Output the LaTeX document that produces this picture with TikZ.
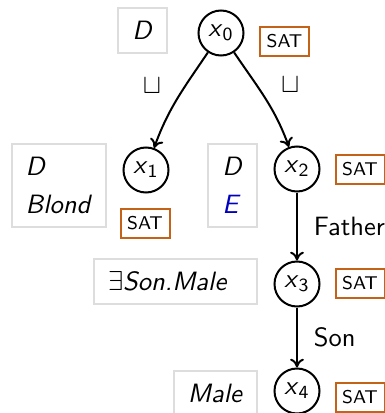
\documentclass[tikz,border=0pt]{standalone}
\usepackage{amsmath}
\usepackage{amssymb}
\usepackage{xcolor}
\usepackage{tikz}
\usetikzlibrary{arrows.meta}

\definecolor{satorange}{RGB}{196,98,24}
\definecolor{labelgray}{RGB}{221,221,221}
\definecolor{conceptblue}{RGB}{0,0,190}
\newcommand{\indv}[1]{\textit{x}\textsubscript{#1}}

\begin{document}
\begin{tikzpicture}[x=0.4pt, y=-0.4pt, font=\sffamily\fontsize{10.6}{12.7}\selectfont,
        indiv/.style={circle, draw, thick, minimum size=18pt, inner sep=0pt},
        labelbox/.style={draw=labelgray, thick, inner xsep=5.6pt, minimum height=18pt, align=left, anchor=north east},
        satbox/.style={draw=satorange, thick, font=\sffamily\fontsize{7.4}{9}\selectfont, minimum width=19.6pt, minimum height=11.6pt, inner sep=0pt},
        link/.style={-{To[length=3.5pt,width=5.5pt]}, thick}]
        \useasboundingbox (0,0) rectangle (385,413);

        % individuals of the tableau
        \node[indiv] (x0) at (221,33) {\indv{0}};
        \node[indiv] (x1) at (146,170) {\indv{1}};
        \node[indiv] (x2) at (297,169) {\indv{2}};
        \node[indiv] (x3) at (297,284) {\indv{3}};
        \node[indiv] (x4) at (297,391) {\indv{4}};

        % concept labels
        \node[labelbox] (L0) at (168,7) {\textit{D}};
        \node[labelbox, minimum height=33.2pt] (L1) at (107,143) {\textit{D}\\[2.5pt]\textit{Blond}};
        \node[labelbox, minimum height=33.2pt] (L2) at (258,143) {\textit{D}\\[2.5pt]\textcolor{conceptblue}{\textit{E}}};
        \node[labelbox, text width=54pt] (L3) at (258,258) {$\exists$\textit{Son.Male}};
        \node[labelbox] (L4) at (258,370) {\textit{Male}};

        % status
        \node[satbox] (s0) at (284.5,41.5) {SAT};
        \node[satbox] (s1) at (145,223) {SAT};
        \node[satbox] (s2) at (360,169.5) {SAT};
        \node[satbox] (s3) at (360,283) {SAT};
        \node[satbox] (s4) at (360,397) {SAT};

        % branches and role edges
        \draw[link] (x0) to[out=-124, in=70] node[pos=0.35, left=6pt] {$\sqcup$} (x1);
        \draw[link] (x0) to[out=-56, in=110] node[pos=0.35, right=6pt] {$\sqcup$} (x2);
        \draw[link] (x2) -- node[right=3pt] {Father} (x3);
        \draw[link] (x3) -- node[right=3pt] {Son} (x4);
    \end{tikzpicture}
\end{document}
